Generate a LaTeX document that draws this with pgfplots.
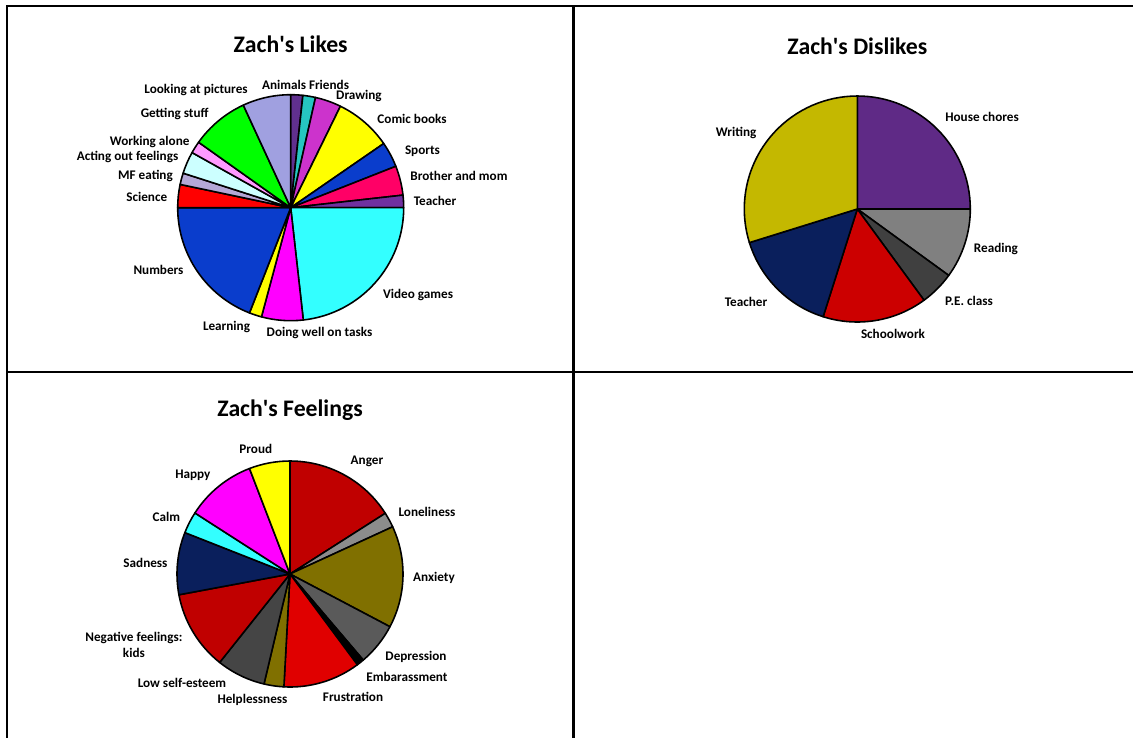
\documentclass[border=0pt]{standalone}
\usepackage{fontspec}
\setmainfont{Carlito}
\usepackage{pgfplots}
\usepackage{pgfplotstable}
\pgfplotsset{compat=1.18}

% slice sizes in degrees (clockwise from 12 o'clock), label centre in pie radii
\pgfplotstableread[col sep=comma]{
deg,hex,lx,ly,name
6.2,60308F,-0.059,1.086,Animals
6.5,26C6C0,0.339,1.090,Friends
13.4,CC33CC,0.604,0.991,Drawing
29.3,FFFF00,1.074,0.785,Comic books
13.1,0A3DCC,1.166,0.502,Sports
15.1,FF0066,1.489,0.281,Brother and mom
6.4,7030A0,1.277,0.059,Teacher
83.6,33FFFF,1.127,-0.773,Video games
21.4,FF00FF,0.255,-1.109,Doing well on tasks
6.4,FFFF00,-0.568,-1.056,Learning
68.6,0A3DCC,-1.170,-0.551,Numbers
11.9,FF0000,-1.274,0.097,Science
5.9,B4A7D6,-1.285,0.281,MF eating
11.4,CCFFFF,-1.444,0.449,Acting out feelings
6.2,FF99FF,-1.248,0.584,Working alone
29.8,00FF00,-1.027,0.827,Getting stuff
24.8,A0A0E0,-0.838,1.042,Looking at pictures
}\likes

\pgfplotstableread[col sep=comma]{
deg,hex,lx,ly,name
90.0,5F2A86,1.104,0.814,House chores
36.0,808080,1.227,-0.354,Reading
17.8,404040,0.988,-0.814,P.E. class
53.8,CC0000,0.316,-1.106,Schoolwork
55.1,0A1F5C,-0.985,-0.823,Teacher
107.3,C4B800,-1.073,0.673,Writing
}\dislikes

\pgfplotstableread[col sep=comma]{
deg,hex,lx,ly,name
57.5,C00000,0.681,1.000,Anger
7.8,8C8C8C,1.212,0.549,Loneliness
52.5,807000,1.274,-0.035,Anxiety
21.8,5A5A5A,1.115,-0.735,Depression
3.8,000000,1.035,-0.912,Embarassment
39.7,E00000,0.558,-1.088,Frustration
10.2,807000,-0.332,-1.115,Helplessness
25.2,454545,-0.956,-0.962,Low self-esteem
40.9,C00000,-1.381,-0.628,{Negative feelings:\\kids}
32.1,0A1F5C,-1.279,0.100,Sadness
11.2,33FFFF,-1.095,0.507,Calm
36.3,FF00FF,-0.860,0.876,Happy
21.0,FFFF00,-0.303,1.104,Proud
}\feelings

\newcommand\lblfont{\fontsize{7.5}{9}\selectfont\bfseries}
\newcommand\ttlfont{\fontsize{13.5}{15}\selectfont\bfseries}
\def\pieR{2.26cm}

\newcommand\drawpie[1]{%
  \pgfplotstablegetrowsof{#1}%
  \pgfmathtruncatemacro\lastrow{\pgfplotsretval-1}%
  \gdef\cumangle{0}%
  \pgfplotsforeachungrouped \i in {0,...,\lastrow}{%
    \pgfplotstablegetelem{\i}{deg}\of{#1}\let\val\pgfplotsretval
    \pgfplotstablegetelem{\i}{hex}\of{#1}\let\hex\pgfplotsretval
    \pgfplotstablegetelem{\i}{lx}\of{#1}\let\lx\pgfplotsretval
    \pgfplotstablegetelem{\i}{ly}\of{#1}\let\ly\pgfplotsretval
    \pgfplotstablegetelem{\i}{name}\of{#1}\let\name\pgfplotsretval
    \edef\tmp{\noexpand\definecolor{slice}{HTML}{\hex}}\tmp
    \pgfmathsetmacro\aa{90-\cumangle}%
    \pgfmathsetmacro\bb{90-\cumangle-\val}%
    \filldraw[fill=slice, draw=black, line width=0.9pt, line join=round]
      (axis cs:0,0) -- (axis cs:{cos(\aa)},{sin(\aa)})
      arc[start angle=\aa, end angle=\bb, radius=\pieR] -- cycle;
    \node[font=\lblfont, align=center, inner sep=0pt] at (axis cs:\lx,\ly) {\name};
    \pgfmathsetmacro\cumangle{\cumangle+\val}%
  }%
}

\pgfplotsset{piebox/.style={anchor=origin, x=\pieR, y=\pieR,
  xmin=-1, xmax=1, ymin=-1, ymax=1, hide axis, clip=false}}

\begin{document}
\begin{tikzpicture}
\useasboundingbox (0,0) rectangle (22.66,-14.74);
% table grid
\draw[line width=1.2pt] (0.134,-14.8) -- (0.134,-0.12) -- (22.8,-0.12);
\draw[line width=1.2pt] (11.47,-0.12) -- (11.47,-14.8);
\draw[line width=1.2pt] (0.134,-7.434) -- (22.8,-7.434);

\begin{axis}[piebox, at={(5.814cm,-4.154cm)}]
  \pgfplotsextra{\drawpie{\likes}
    \node[font=\ttlfont] at (axis cs:0,1.446) {Zach\textquotesingle s Likes};}
\end{axis}

\begin{axis}[piebox, at={(17.146cm,-4.18cm)}]
  \pgfplotsextra{\drawpie{\dislikes}
    \node[font=\ttlfont] at (axis cs:0,1.442) {Zach\textquotesingle s Dislikes};}
\end{axis}

\begin{axis}[piebox, at={(5.8cm,-11.48cm)}]
  \pgfplotsextra{\drawpie{\feelings}
    \node[font=\ttlfont] at (axis cs:0,1.451) {Zach\textquotesingle s Feelings};}
\end{axis}
\end{tikzpicture}
\end{document}
